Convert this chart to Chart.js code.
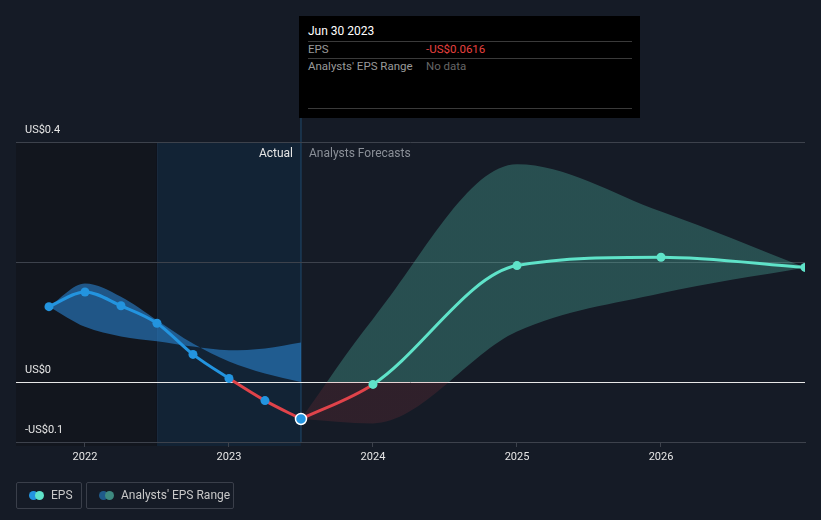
<!DOCTYPE html>
<html>
<head>
<meta charset="utf-8">
<script src="https://cdn.jsdelivr.net/npm/chart.js@4.4.1/dist/chart.umd.min.js"></script>
<style>
  html, body { margin: 0; padding: 0; background: #151b26; }
  body { width: 821px; height: 520px; position: relative; overflow: hidden; font-family: Roboto, "Noto Sans", sans-serif; }
  #wrap { position: absolute; left: 0; top: 0; width: 821px; height: 520px; }
  .tip { position: absolute; left: 299px; top: 16px; width: 341px; height: 102px; background: #000; }
  .tip .t { position: absolute; left: 9px; top: 8px; color: #fff; font-size: 12px; }
  .tip .sep { position: absolute; left: 9px; width: 324px; height: 1px; background: #3a3a3a; }
  .tip .lab { position: absolute; left: 9px; color: #9a9a9a; font-size: 11.5px; }
  .tip .val { position: absolute; left: 127px; font-size: 11.5px; }
  .legend { position: absolute; top: 482px; height: 27px; border: 1px solid #3a3f4a; border-radius: 2px; box-sizing: border-box; color: #c8c8c8; font-size: 12px; line-height: 25px; }
  .legend .dot { position: absolute; top: 8px; width: 9px; height: 9px; border-radius: 50%; }
</style>
</head>
<body>
<div id="wrap"><canvas id="c" width="821" height="520"></canvas></div>

<div class="tip">
  <div class="t">Jun 30 2023</div>
  <div class="sep" style="top:25px"></div>
  <div class="lab" style="top:26px">EPS</div>
  <div class="val" style="top:26px;color:#e8413f">-US$0.0616</div>
  <div class="sep" style="top:42px"></div>
  <div class="lab" style="top:43px">Analysts' EPS Range</div>
  <div class="val" style="top:43px;color:#666">No data</div>
  <div class="sep" style="top:92px"></div>
</div>

<div class="legend" style="left:16px;width:66px;">
  <span class="dot" style="left:12px;background:#2394df"></span>
  <span class="dot" style="left:18px;background:#5fe3c9"></span>
  <span style="position:absolute;left:34px;">EPS</span>
</div>
<div class="legend" style="left:86px;width:148px;">
  <span class="dot" style="left:12px;background:#1f5a8a"></span>
  <span class="dot" style="left:18px;background:#3e8a80"></span>
  <span style="position:absolute;left:34px;">Analysts' EPS Range</span>
</div>

<script>
// ---- data ----
const pastX      = [2021.75, 2022.0, 2022.25, 2022.5, 2022.75, 2023.0, 2023.25, 2023.5];
const pastEPS    = [0.1256, 0.150, 0.127, 0.098, 0.046, 0.006, -0.031, -0.0616];
const pastBandA  = [0.1256, 0.164, 0.142, 0.103, 0.064, 0.034, 0.014, 0.000];
const pastBandB  = [0.1256, 0.092, 0.076, 0.068, 0.059, 0.053, 0.056, 0.066];

const fcX        = [2023.5, 2024.0, 2025.0, 2026.0, 2027.0];
const fcEPS      = [-0.0616, -0.004, 0.194, 0.208, 0.191];
const fcHigh     = [-0.0616, 0.105, 0.363, 0.284, 0.191];
const fcLow      = [-0.0616, -0.069, 0.084, 0.148, 0.191];

const xTickYears = [2022, 2023, 2024, 2025, 2026];
const yTicks     = [-0.1, 0, 0.2, 0.4];
const yLabels    = { "-0.1": "-US$0.1", "0": "US$0", "0.2": "", "0.4": "US$0.4" };
const actualEnd  = 2023.5;
const shadeStart = 2022.5;

const BLUE = '#2394df', TEAL = '#5fe3c9', RED = '#e0434a';

function pts(xs, ys) { return xs.map((x, i) => ({ x: x, y: ys[i] })); }

function zeroSplitFill(ctx, above, below) {
  const chart = ctx.chart; const ca = chart.chartArea;
  if (!ca) return above;
  const y0 = chart.scales.y.getPixelForValue(0);
  const g = chart.ctx.createLinearGradient(0, ca.top, 0, ca.bottom);
  const f = Math.min(Math.max((y0 - ca.top) / (ca.bottom - ca.top), 0), 1);
  g.addColorStop(0, above); g.addColorStop(f, above);
  g.addColorStop(f, below); g.addColorStop(1, below);
  return g;
}

function segColor(pos) {
  return (c) => ((c.p0.parsed.y + c.p1.parsed.y) / 2 < 0 ? RED : pos);
}

const bgPlugin = {
  id: 'bg',
  beforeDraw(chart) {
    const { ctx, chartArea: ca, scales } = chart;
    ctx.save();
    ctx.fillStyle = '#151b26';
    ctx.fillRect(0, 0, chart.width, chart.height);
    const xs = scales.x.getPixelForValue(shadeStart);
    const xe = scales.x.getPixelForValue(actualEnd);
    ctx.fillStyle = '#12161e';
    ctx.fillRect(ca.left, ca.top, xs - ca.left, ca.bottom - ca.top + 4);
    ctx.fillStyle = '#122335';
    ctx.fillRect(xs, ca.top, xe - xs, ca.bottom - ca.top + 4);
    ctx.fillStyle = '#1a2a3c';
    ctx.fillRect(xs, ca.top, 1, ca.bottom - ca.top);
    ctx.fillStyle = '#1f4a6d';
    ctx.fillRect(xe - 0.5, 118, 1, ca.bottom - 118);
    ctx.restore();
  },
  afterDatasetsDraw(chart) {
    const { ctx, chartArea: ca, scales } = chart;
    const xe = scales.x.getPixelForValue(actualEnd);
    ctx.save();
    ctx.font = '12px Roboto, "Noto Sans", sans-serif';
    ctx.textBaseline = 'middle';
    ctx.textAlign = 'right';
    ctx.fillStyle = '#e6e6e6';
    ctx.fillText('Actual', xe - 8, ca.top + 12);
    ctx.textAlign = 'left';
    ctx.fillStyle = '#8b9098';
    ctx.fillText('Analysts Forecasts', xe + 8, ca.top + 12);
    ctx.restore();
  }
};

new Chart(document.getElementById('c'), {
  type: 'line',
  data: {
    datasets: [
      { // past band A
        data: pts(pastX, pastBandA), borderWidth: 0, pointRadius: 0,
        fill: '+1', backgroundColor: 'rgba(42,130,205,0.6)',
        cubicInterpolationMode: 'monotone', order: 10
      },
      { // past band B
        data: pts(pastX, pastBandB), borderWidth: 0, pointRadius: 0,
        fill: false, cubicInterpolationMode: 'monotone', order: 11
      },
      { // forecast high
        data: pts(fcX, fcHigh), borderWidth: 0, pointRadius: 0,
        fill: '+1',
        backgroundColor: (ctx) => zeroSplitFill(ctx, 'rgba(95,227,201,0.26)', 'rgba(224,67,74,0.13)'),
        cubicInterpolationMode: 'monotone', order: 12
      },
      { // forecast low
        data: pts(fcX, fcLow), borderWidth: 0, pointRadius: 0,
        fill: false, cubicInterpolationMode: 'monotone', order: 13
      },
      { // forecast EPS
        data: pts(fcX, fcEPS), borderWidth: 3, borderColor: TEAL,
        segment: { borderColor: segColor(TEAL) },
        pointRadius: (c) => (c.dataIndex === 0 ? 0 : 4.5),
        pointBackgroundColor: TEAL, pointBorderWidth: 0,
        fill: false, cubicInterpolationMode: 'monotone', order: 2
      },
      { // past EPS
        data: pts(pastX, pastEPS), borderWidth: 3, borderColor: BLUE,
        segment: { borderColor: segColor(BLUE) },
        pointRadius: (c) => (c.dataIndex === pastX.length - 1 ? 5.5 : 4.5),
        pointBackgroundColor: BLUE,
        pointBorderColor: (c) => (c.dataIndex === pastX.length - 1 ? '#ffffff' : BLUE),
        pointBorderWidth: (c) => (c.dataIndex === pastX.length - 1 ? 1.5 : 0),
        fill: false, cubicInterpolationMode: 'monotone', order: 1
      }
    ]
  },
  options: {
    responsive: false,
    animation: false,
    events: [],
    layout: { padding: { left: 16, right: 16, top: 142, bottom: 0 } },
    plugins: { legend: { display: false }, tooltip: { enabled: false } },
    scales: {
      x: {
        type: 'linear', min: 2021.521, max: 2027.0,
        afterBuildTicks: (s) => { s.ticks = xTickYears.map(v => ({ value: v })); },
        afterFit: (s) => { s.height = 78; },
        ticks: { color: '#e6e6e6', font: { family: 'Roboto', size: 11 }, padding: 4, maxRotation: 0,
                 callback: (v) => String(v) },
        grid: { display: true, drawOnChartArea: false, drawTicks: true, tickLength: 5, color: '#3d424c' },
        border: { display: true, color: '#3d424c' }
      },
      y: {
        type: 'linear', min: -0.1, max: 0.4,
        afterBuildTicks: (s) => { s.ticks = yTicks.map(v => ({ value: v })); },
        afterFit: (s) => { s.width = 0; },
        ticks: { mirror: true, padding: 9, labelOffset: -12, color: '#e6e6e6',
                 font: { family: 'Roboto', size: 11 },
                 callback: (v) => yLabels[String(Math.round(v * 10) / 10)] },
        grid: { drawTicks: false,
                color: (c) => (c.tick && c.tick.value === 0 ? '#e8e8e8' : '#3d424c'),
                lineWidth: 1 },
        border: { display: false }
      }
    }
  },
  plugins: [bgPlugin]
});
</script>
</body>
</html>
